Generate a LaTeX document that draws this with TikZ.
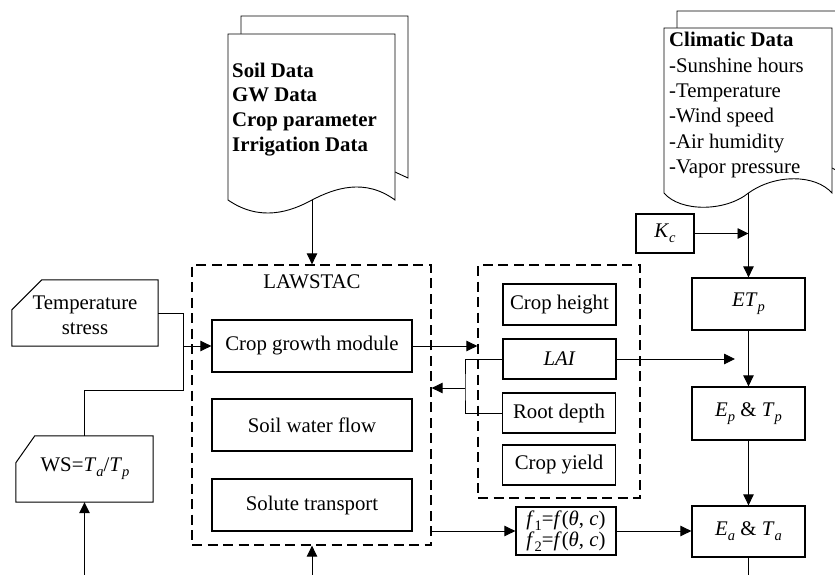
\documentclass[tikz,border=0pt]{standalone}
\usepackage{fontspec}
\setmainfont{Liberation Serif}
\usetikzlibrary{arrows.meta}
\newcommand\sbs[1]{\raisebox{-5pt}{\fontsize{14.5}{15}\selectfont #1}}
\begin{document}
\fontsize{20.8}{25}\selectfont
\begin{tikzpicture}[x=1pt,y=-1pt,
  box/.style={draw, line width=1.3pt, inner sep=0pt},
  dbox/.style={draw, dash pattern=on 10pt off 5.5pt, line width=1.3pt, inner sep=0pt},
  conn/.style={line width=0.9pt, -{Triangle[length=11pt,width=10.5pt]}},
  plain/.style={line width=0.9pt},
  doc/.style={line width=0.9pt},
  card/.style={line width=1pt}]
\useasboundingbox (0,0) rectangle (835,575);
\clip (0,0) rectangle (835,575);

% Soil document
\draw[doc] (241,34) -- (241,16) -- (408,16) -- (408,178) -- (395,172);
\draw[doc, fill=white] (228,34) -- (395,34) -- (395,200) .. controls (365,178) and (335,188) .. (312,200) .. controls (290,212) and (260,222) .. (228,200) -- cycle;
\node[anchor=base west, font=\bfseries, inner sep=0pt] (s1) at (232,78) {Soil Data};
\node[anchor=base west, font=\bfseries, inner sep=0pt] (s2) at (232,102) {GW Data};
\node[anchor=base west, font=\bfseries, inner sep=0pt] (s3) at (232,127) {Crop parameter};
\node[anchor=base west, font=\bfseries, inner sep=0pt] (s4) at (232,151) {Irrigation Data};
\coordinate (sd) at (312,200);

% Climatic document
\draw[doc] (677,28) -- (677,11) -- (845,11) -- (845,175) -- (832,168);
\draw[doc, fill=white] (664,28) -- (832,28) -- (832,193) .. controls (815,174) and (775,174) .. (748.5,193) .. controls (725,212) and (680,212) .. (664,193) -- cycle;
\node[anchor=base west, font=\bfseries, inner sep=0pt] (c0) at (669,47) {Climatic Data};
\node[anchor=base west, inner sep=0pt] (c1) at (669,73) {-Sunshine hours};
\node[anchor=base west, inner sep=0pt] (c2) at (669,98) {-Temperature};
\node[anchor=base west, inner sep=0pt] (c3) at (669,123) {-Wind speed};
\node[anchor=base west, inner sep=0pt] (c4) at (669,148) {-Air humidity};
\node[anchor=base west, inner sep=0pt] (c5) at (669,173) {-Vapor pressure};
\coordinate (cd) at (748.5,193);

% LAWSTAC
\node[dbox, minimum width=239pt, minimum height=280pt] (law) at (311.5,405) {};
\node[anchor=base, inner sep=0pt] (lawt) at (312,288) {LAWSTAC};
\node[box, minimum width=200pt, minimum height=52pt] (crop) at (312,346) {Crop growth module};
\node[box, minimum width=200pt, minimum height=52pt] (soil) at (312,425) {Soil water flow};
\node[box, minimum width=200pt, minimum height=52pt] (solute) at (312,505) {Solute transport};

% outputs
\node[dbox, minimum width=162pt, minimum height=233pt] (out) at (559,381.5) {};
\node[box, minimum width=113pt, minimum height=41pt] (ch) at (559.5,304.5) {Crop height};
\node[box, minimum width=113pt, minimum height=40pt] (lai) at (559.5,359) {\textit{LAI}};
\node[box, minimum width=113pt, minimum height=40pt] (rd) at (559,413) {Root depth};
\node[box, minimum width=113pt, minimum height=40pt] (cy) at (559,465) {Crop yield};

\node[box, minimum width=100pt, minimum height=48pt, align=center, font=\fontsize{20.8}{21.5}\selectfont] (f) at (566,531)
  {\textit{f}\sbs{1}=\textit{f}(\textit{θ}, \textit{c})\\\textit{f}\sbs{2}=\textit{f}(\textit{θ}, \textit{c})};

% ET column
\node[box, minimum width=58pt, minimum height=39pt] (kc) at (665,233.5) {\textit{K}\sbs{\textit{c}}};
\node[box, minimum width=113pt, minimum height=52pt] (etp) at (748.5,304) {\textit{ET}\sbs{\textit{p}}};
\node[box, minimum width=113pt, minimum height=53pt] (eptp) at (748.5,413.5) {\textit{E}\sbs{\textit{p}} \& \textit{T}\sbs{\textit{p}}};
\node[box, minimum width=113pt, minimum height=51pt] (eata) at (748.5,531.5) {\textit{E}\sbs{\textit{a}} \& \textit{T}\sbs{\textit{a}}};

% cards
\node[minimum width=146pt, minimum height=66pt, inner sep=0pt] (ts) at (85,313) {};
\draw[card] ([xshift=30pt]ts.north west) -- (ts.north east) -- (ts.south east) -- (ts.south west) -- ([yshift=-30pt]ts.north west) -- cycle;
\node[align=center, inner sep=0pt] (tst) at (85,315) {Temperature\\stress};
\node[minimum width=137pt, minimum height=66pt, inner sep=0pt] (ws) at (84.5,469) {};
\draw[card] ([xshift=19pt]ws.north west) -- (ws.north east) -- (ws.south east) -- (ws.south west) -- ([yshift=-27pt]ws.north west) -- cycle;
\node[inner sep=0pt] (wst) at (85,469) {WS=\textit{T}\sbs{\textit{a}}/\textit{T}\sbs{\textit{p}}};

% connectors
\draw[conn] (sd) -- (sd |- law.north);
\draw[conn] (cd) -- (etp.north);
\draw[conn] (kc.east) -- (kc.east -| etp.north);
\draw[conn] (etp.south) -- (eptp.north);
\draw[conn] (eptp.south) -- (eata.north);
\coordinate (eb) at (748.5,580);
\draw[plain] (eata.south) -- (eb);
\coordinate (laiend) at (735,359);
\draw[conn] (lai.east) -- (laiend);
\draw[conn] (crop.east) -- (crop.east -| out.west);
\coordinate (bx) at (465,388);
\draw[plain] (lai.west) -| (bx) |- (rd.west);
\draw[conn] (bx) -- (bx -| law.east);
\draw[conn] (law.east |- f.west) -- (f.west);
\draw[conn] (f.east) -- (f.east -| eata.west);
\coordinate (tj) at (183,390);
\draw[plain] (ts.east) -| (tj) -| (ws.north);
\coordinate (cj) at (183,346);
\draw[conn] (cj) -- (crop.west);
\coordinate (wb) at (84.5,580);
\draw[conn] (wb) -- (ws.south);
\coordinate (lb) at (312,580);
\draw[conn] (lb) -- (lb |- law.south);
\end{tikzpicture}
\end{document}
